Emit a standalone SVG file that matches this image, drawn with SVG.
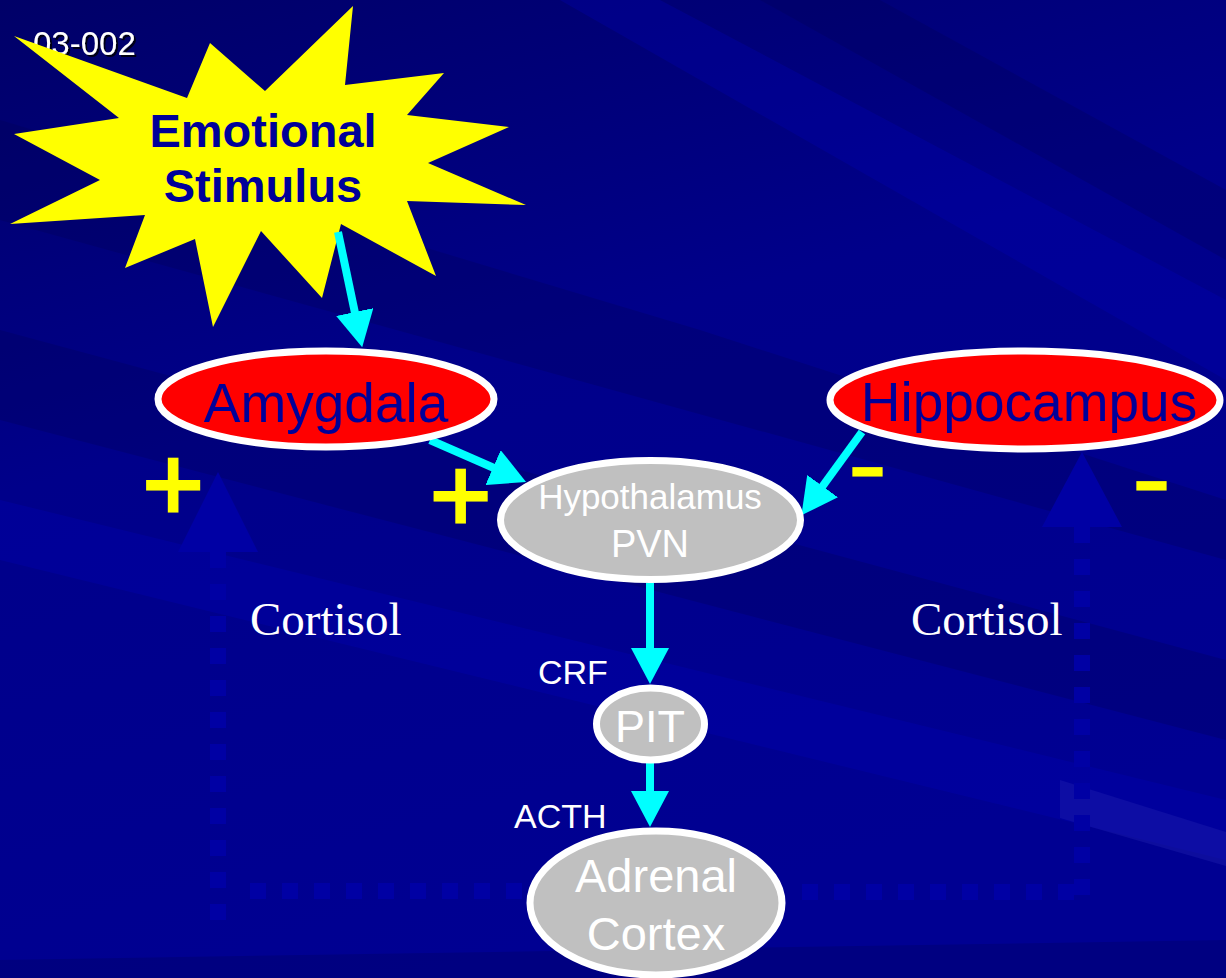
<svg xmlns="http://www.w3.org/2000/svg" width="1226" height="978" viewBox="0 0 1226 978">
  <style>
    .bgband-d { fill: #000050; }
    .bgband-l { fill: #0000C0; }
    .ghost { fill: #0000A4; }
    .ghostline { fill: none; stroke: #0000A4; stroke-width: 16; stroke-dasharray: 16 16; }
    .conn { stroke: #00FFFF; stroke-width: 8; fill: none; marker-end: url(#head); }
    .red { fill: #FF0000; stroke: #FFFFFF; stroke-width: 7; }
    .grey { fill: #C0C0C0; stroke: #FFFFFF; stroke-width: 7; }
    .redtxt { font-family: "Liberation Sans", Arial, sans-serif; font-size: 55px; fill: #000099; text-anchor: middle; }
    .greytxt { font-family: "Liberation Sans", Arial, sans-serif; fill: #FFFFFF; text-anchor: middle; }
    .lbl { font-family: "Liberation Sans", Arial, sans-serif; font-size: 34px; fill: #FFFFFF; }
    .cort { font-family: "Liberation Serif", "Times New Roman", serif; font-size: 47px; fill: #FFFFFF; }
    .plus { font-family: "Liberation Sans", Arial, sans-serif; font-size: 105px; fill: #FFFF00; stroke: #FFFF00; stroke-width: 3; stroke-linejoin: miter; }
    .minus { font-family: "Liberation Sans", Arial, sans-serif; font-size: 55px; fill: #FFFF00; stroke: #FFFF00; stroke-width: 5; stroke-linejoin: miter; }
  </style>
  <defs>
    <linearGradient id="bg" x1="0" y1="0" x2="0.35" y2="1">
      <stop offset="0" stop-color="#000068"/>
      <stop offset="0.45" stop-color="#00008A"/>
      <stop offset="1" stop-color="#000092"/>
    </linearGradient>
    <marker id="head" viewBox="0 0 36 38" markerWidth="36" markerHeight="38" refX="1" refY="19" orient="auto" markerUnits="userSpaceOnUse">
      <path d="M0,0 L36,19 L0,38 Z" fill="#00FFFF"/>
    </marker>
    <filter id="shadow" x="-10%" y="-20%" width="130%" height="150%">
      <feDropShadow dx="2" dy="2" stdDeviation="0.6" flood-color="#000000" flood-opacity="0.8"/>
    </filter>
  </defs>

  <!-- background -->
  <rect x="0" y="0" width="1226" height="978" fill="url(#bg)"/>
  <g opacity="0.25">
    <polygon class="bgband-d" points="0,330 1226,660 1226,740 0,420"/>
    <polygon class="bgband-d" points="0,120 700,330 1226,500 1226,560 0,220"/>
    <polygon class="bgband-l" points="0,500 1226,800 1226,860 0,560"/>
    <polygon class="bgband-l" points="560,0 660,0 1226,300 1226,380"/>
    <polygon class="bgband-d" points="760,0 880,0 1226,190 1226,260"/>
    <polygon class="bgband-d" points="0,960 1226,940 1226,978 0,978"/>
  </g>
  <polygon points="1060,780 1226,832 1226,866 1060,818" fill="#2020B0" opacity="0.4"/>

  <!-- faint cortisol feedback arrows -->
  <g id="cortisol-feedback">
    <polygon class="ghost" points="218,472 178,552 258,552"/>
    <line class="ghostline" x1="218" y1="552" x2="218" y2="920"/>
    <line class="ghostline" x1="250" y1="891" x2="530" y2="891"/>
    <polygon class="ghost" points="1082,452 1042,527 1122,527"/>
    <line class="ghostline" x1="1082" y1="527" x2="1082" y2="900"/>
    <line class="ghostline" x1="802" y1="892" x2="1074" y2="892"/>
  </g>

  <text x="33" y="55" font-family="Liberation Sans, Arial, sans-serif" font-size="33" fill="#FFFFFF" filter="url(#shadow)">03-002</text>

  <g id="emotional-stimulus">
    <polygon fill="#FFFF00" points="14,36 187,98 210,43 265,91 353,6 345,85 444,73 407,115 509,127 428,163 526,205 407,201 436,276 341,224 322,298 261,231 213,327 195,239 125,268 145,215 10,224 100,180 14,134 119,118"/>
    <text x="263" y="147" font-family="Liberation Sans, Arial, sans-serif" font-size="47" font-weight="bold" fill="#000099" text-anchor="middle">Emotional</text>
    <text x="263" y="202" font-family="Liberation Sans, Arial, sans-serif" font-size="47" font-weight="bold" fill="#000099" text-anchor="middle">Stimulus</text>
  </g>

  <g id="connectors">
    <line class="conn" x1="338" y1="232" x2="355" y2="313"/>
    <line class="conn" x1="430" y1="440" x2="494" y2="468"/>
    <line class="conn" x1="862" y1="432" x2="822" y2="487"/>
    <line class="conn" x1="650" y1="583" x2="650" y2="649"/>
    <line class="conn" x1="650" y1="760" x2="650" y2="792"/>
  </g>

  <g id="amygdala">
    <ellipse class="red" cx="326" cy="399" rx="168" ry="48"/>
    <text class="redtxt" x="326" y="422">Amygdala</text>
  </g>

  <g id="hippocampus">
    <ellipse class="red" cx="1025" cy="400" rx="195" ry="49"/>
    <text class="redtxt" x="1029" y="421">Hippocampus</text>
  </g>

  <g id="hypothalamus">
    <ellipse class="grey" cx="650.5" cy="520" rx="150" ry="59.5"/>
    <text class="greytxt" x="650" y="509" font-size="35">Hypothalamus</text>
    <text class="greytxt" x="650" y="557" font-size="38">PVN</text>
  </g>

  <g id="pit">
    <ellipse class="grey" cx="650.5" cy="724" rx="54" ry="36"/>
    <text class="greytxt" x="650" y="742" font-size="45">PIT</text>
  </g>

  <g id="adrenal-cortex">
    <ellipse class="grey" cx="656" cy="903" rx="126" ry="72"/>
    <text class="greytxt" x="656" y="892" font-size="47">Adrenal</text>
    <text class="greytxt" x="656" y="950" font-size="47">Cortex</text>
  </g>

  <g id="labels">
    <text class="lbl" x="538" y="684">CRF</text>
    <text class="lbl" x="514" y="828">ACTH</text>
    <text class="cort" x="250" y="635">Cortisol</text>
    <text class="cort" x="911" y="635">Cortisol</text>
    <text class="plus" x="142.5" y="520">+</text>
    <text class="plus" x="430" y="531">+</text>
    <text class="minus" x="852.6" y="487.3" textLength="30" lengthAdjust="spacingAndGlyphs">-</text>
    <text class="minus" x="1136.6" y="501.3" textLength="30" lengthAdjust="spacingAndGlyphs">-</text>
  </g>
</svg>
